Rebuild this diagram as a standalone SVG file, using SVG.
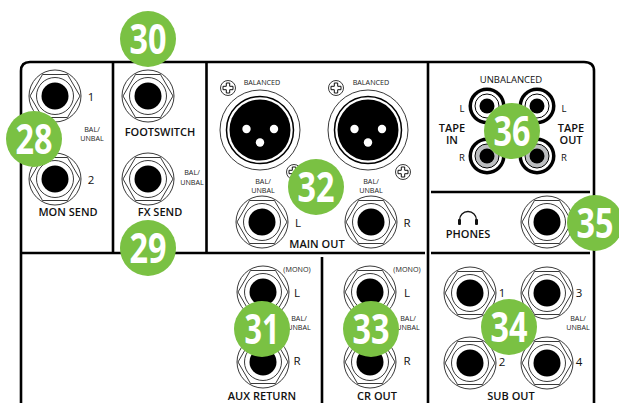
<svg xmlns="http://www.w3.org/2000/svg" xmlns:xlink="http://www.w3.org/1999/xlink" width="619" height="403" viewBox="0 0 619 403">
<style>
.ln{fill:none;stroke:#000;stroke-width:2.600}
.o{fill:#fff;stroke:#222;stroke-width:.9}
.t{font-family:"Open Sans","Liberation Sans",sans-serif;fill:#111;text-anchor:middle}
.b{font-size:11px;font-weight:600}
.s{font-size:7.2px;fill:#222}
.n{font-size:11.5px;font-weight:400}
.m{font-size:9.500px;font-weight:400}
.bt{font-family:"Open Sans","Liberation Sans",sans-serif;font-size:42px;font-weight:700;fill:#fff;text-anchor:middle}
.bc{fill:#7ac143}
</style>
<defs>
<g id="jack">
<circle class="o" r="26"/>
<path class="o" d="M-25 0L-12.500 -21.500H12.500L25 0L12.500 21.500H-12.500Z"/>
<circle class="o" r="18.500"/>
<circle fill="#000" r="13.500"/>
</g>
<g id="xlr">
<circle class="o" r="40"/>
<circle fill="#fff" stroke="#000" stroke-width="1.500" r="33.500"/>
<circle fill="#000" r="30.500"/>
<circle fill="#fff" cx="-13.500" cy="-1" r="4.200"/>
<circle fill="#fff" cx="14" cy="-1" r="4.200"/>
<circle fill="#fff" cx="0" cy="12.500" r="4.200"/>
</g>
<g id="screw">
<circle class="o" r="7.500"/>
<path fill="#fff" stroke="#111" stroke-width="1" d="M-1.700 -5H1.700V-1.700H5V1.700H1.700V5H-1.700V1.700H-5V-1.700H-1.700Z"/>
</g>
<g id="rca">
<circle fill="#000" r="18.500"/>
<circle fill="#fff" r="15"/>
<circle fill="none" stroke="#000" stroke-width="1" r="12"/>
<circle fill="#000" r="7.500"/>
</g>
<g id="rcag">
<circle fill="#000" r="18.500"/>
<circle fill="#fff" r="15"/>
<circle fill="#bcbec0" stroke="#000" stroke-width="1" r="12"/>
<circle fill="#000" r="7.500"/>
</g>
</defs>
<g id="connectors">
<path class="ln" d="M21 403V71Q21 62 30 62H584Q594 62 594 71V403"/>
<path class="ln" d="M113 62V252M206.500 62V252M428 62V403M21 253H425M322 257V403M431 192H590M431 253H590"/>
</g>
<g id="mon-send">
<use xlink:href="#jack" x="55" y="96"/><use xlink:href="#jack" x="55" y="179"/>
<text class="t n" x="91" y="101">1</text><text class="t n" x="91" y="184">2</text>
<text class="t s" x="92" y="132">BAL/</text><text class="t s" x="92" y="141">UNBAL</text>
<text class="t b" x="68" y="216">MON SEND</text>
</g>
<g id="footswitch">
<use xlink:href="#jack" x="148" y="96"/>
<text class="t b" x="160" y="136">FOOTSWITCH</text>
</g>
<g id="fx-send">
<use xlink:href="#jack" x="148" y="179"/>
<text class="t s" x="192" y="175">BAL/</text><text class="t s" x="192" y="185">UNBAL</text>
<text class="t b" x="160" y="216">FX SEND</text>
</g>
<g id="main-out">
<use xlink:href="#xlr" x="260" y="130"/><use xlink:href="#xlr" x="368" y="130"/>
<use xlink:href="#screw" x="228" y="88"/><use xlink:href="#screw" x="336" y="88"/>
<use xlink:href="#screw" x="294" y="172"/><use xlink:href="#screw" x="403" y="172"/>
<text class="t s" x="262" y="85">BALANCED</text><text class="t s" x="371" y="85">BALANCED</text>
<text class="t s" x="263" y="184">BAL/</text><text class="t s" x="263" y="193">UNBAL</text>
<text class="t s" x="371" y="184">BAL/</text><text class="t s" x="371" y="193">UNBAL</text>
<use xlink:href="#jack" x="262" y="222"/><use xlink:href="#jack" x="371" y="222"/>
<text class="t n" x="298" y="227">L</text><text class="t n" x="407" y="227">R</text>
<text class="t b" x="317" y="248">MAIN OUT</text>
</g>
<g id="tape">
<text class="t m" x="511" y="83">UNBALANCED</text>
<use xlink:href="#rca" x="487" y="106"/><use xlink:href="#rca" x="537" y="106"/>
<use xlink:href="#rcag" x="487" y="156"/><use xlink:href="#rcag" x="537" y="156"/>
<text class="t m" x="462" y="112">L</text><text class="t m" x="564" y="112">L</text>
<text class="t m" x="462" y="161">R</text><text class="t m" x="564" y="161">R</text>
<text class="t b" x="452" y="132">TAPE</text><text class="t b" x="452" y="144">IN</text>
<text class="t b" x="571" y="132">TAPE</text><text class="t b" x="571" y="144">OUT</text>
</g>
<g id="phones">
<path fill="none" stroke="#111" stroke-width="1.300" d="M459.500 224V220A8.500 8.500 0 0 1 476.500 220V224"/>
<rect x="458" y="219" width="3" height="6" rx="1" fill="#111"/><rect x="475" y="219" width="3" height="6" rx="1" fill="#111"/>
<text class="t b" x="468" y="238">PHONES</text>
<use xlink:href="#jack" x="547" y="222"/>
</g>
<g id="aux-return">
<use xlink:href="#jack" x="263" y="292"/><use xlink:href="#jack" x="263" y="362"/>
<text class="t s" x="297" y="272">(MONO)</text>
<text class="t n" x="297" y="297">L</text><text class="t n" x="297" y="365">R</text>
<text class="t s" x="299" y="321">BAL/</text><text class="t s" x="299" y="330">UNBAL</text>
<text class="t b" x="262" y="400">AUX RETURN</text>
</g>
<g id="cr-out">
<use xlink:href="#jack" x="370" y="292"/><use xlink:href="#jack" x="370" y="362"/>
<text class="t s" x="407" y="272">(MONO)</text>
<text class="t n" x="407" y="297">L</text><text class="t n" x="407" y="365">R</text>
<text class="t s" x="408" y="321">BAL/</text><text class="t s" x="408" y="330">UNBAL</text>
<text class="t b" x="377" y="400">CR OUT</text>
</g>
<g id="sub-out">
<use xlink:href="#jack" x="470" y="293"/><use xlink:href="#jack" x="547" y="293"/>
<use xlink:href="#jack" x="470" y="363"/><use xlink:href="#jack" x="547" y="363"/>
<text class="t n" x="502" y="297">1</text><text class="t n" x="579" y="297">3</text>
<text class="t n" x="502" y="366">2</text><text class="t n" x="579" y="366">4</text>
<text class="t s" x="578" y="321">BAL/</text><text class="t s" x="578" y="330">UNBAL</text>
<text class="t b" x="511" y="400">SUB OUT</text>
</g>
<g id="badge-28"><circle class="bc" cx="34" cy="139" r="28"/><text class="bt" x="34" y="154" textLength="37" lengthAdjust="spacingAndGlyphs">28</text></g>
<g id="badge-29"><circle class="bc" cx="148" cy="248" r="28"/><text class="bt" x="148" y="263" textLength="37" lengthAdjust="spacingAndGlyphs">29</text></g>
<g id="badge-30"><circle class="bc" cx="148" cy="39" r="28"/><text class="bt" x="148" y="54" textLength="37" lengthAdjust="spacingAndGlyphs">30</text></g>
<g id="badge-31"><circle class="bc" cx="262" cy="329" r="28"/><text class="bt" x="262" y="344" textLength="35" lengthAdjust="spacingAndGlyphs">31</text></g>
<g id="badge-32"><circle class="bc" cx="316" cy="187" r="28"/><text class="bt" x="316" y="202" textLength="37" lengthAdjust="spacingAndGlyphs">32</text></g>
<g id="badge-33"><circle class="bc" cx="371" cy="329" r="28"/><text class="bt" x="371" y="344" textLength="37" lengthAdjust="spacingAndGlyphs">33</text></g>
<g id="badge-34"><circle class="bc" cx="509" cy="327" r="28"/><text class="bt" x="509" y="342" textLength="37" lengthAdjust="spacingAndGlyphs">34</text></g>
<g id="badge-35"><circle class="bc" cx="595" cy="223" r="28"/><text class="bt" x="595" y="238" textLength="37" lengthAdjust="spacingAndGlyphs">35</text></g>
<g id="badge-36"><circle class="bc" cx="512" cy="131" r="28"/><text class="bt" x="512" y="146" textLength="37" lengthAdjust="spacingAndGlyphs">36</text></g>
</svg>
